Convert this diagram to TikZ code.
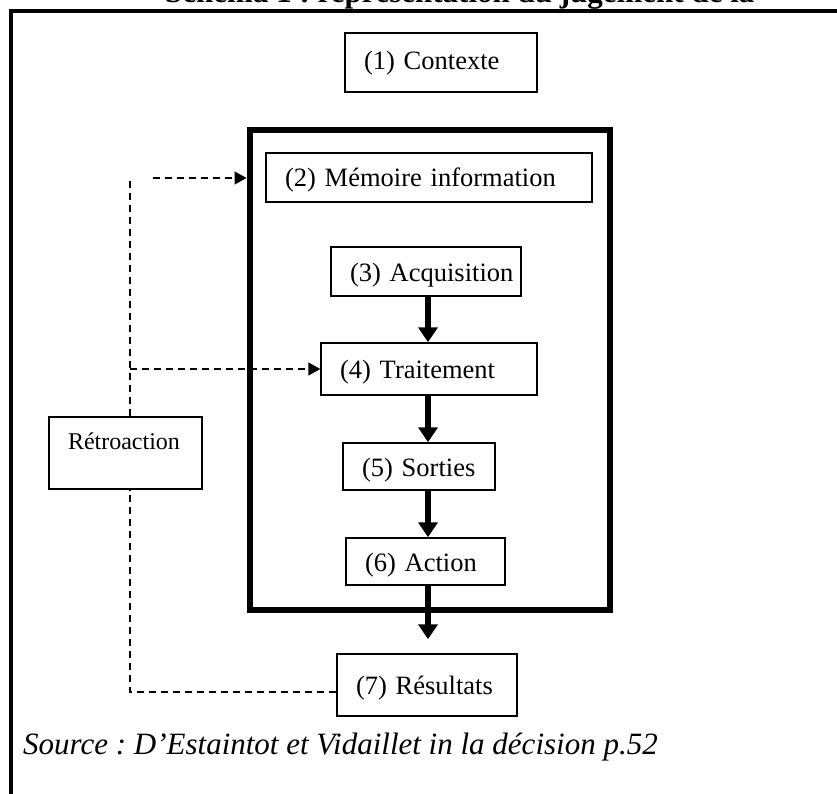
\documentclass[tikz,border=0pt]{standalone}
\usepackage{fontspec}
\setmainfont{Liberation Serif}
\usetikzlibrary{arrows.meta}
\frenchspacing

\tikzset{
  stepbox/.style={draw, line width=1.5pt, fill=white, inner xsep=19pt, inner ysep=0pt,
    align=left, text height=21pt, text depth=2pt,
    font=\fontsize{26.5}{30}\selectfont},
  corebox/.style={draw, line width=6pt, inner sep=0pt},
  flow/.style={line width=6pt, -{Triangle[width=19pt,length=15pt]}},
  feedback/.style={line width=1.5pt, dash pattern=on 7pt off 5pt},
  feedbackarrow/.style={feedback, -{Triangle[width=13pt,length=12pt]}},
}

\begin{document}
\begin{tikzpicture}[x=1pt,y=-1pt]
  \useasboundingbox (0,0) rectangle (837,794);

  % heading, mostly above the page edge
  \node[anchor=base west, inner sep=0pt, font=\fontsize{31}{34}\selectfont\bfseries]
    (title) at (165,3) {Schéma 1 : représentation du jugement de la};

  % outer frame (top and left sides)
  \draw[line width=4pt] (845,11) -- (10.5,11) -- (10.5,800);

  % the judgement process block
  \node[corebox, minimum width=360.5pt, minimum height=479.5pt] (core) at (429.75,369.75) {};

  \node[stepbox, minimum height=59pt, text width=154pt, text height=19pt, text depth=4pt]
    (ctx) at (441,62.5) {\mbox{(1) Contexte}};
  \node[stepbox, minimum height=49pt, text width=288pt] (mem) at (429,177.5) {\mbox{(2) Mémoire information}};
  \node[stepbox, minimum height=49pt, text width=152pt] (acq) at (426,271.5) {\mbox{(3) Acquisition}};
  \node[stepbox, minimum height=52pt, text width=178pt] (trt) at (429,369) {\mbox{(4) Traitement}};
  \node[stepbox, minimum height=47pt, text width=114pt] (out) at (419,466.5) {\mbox{(5) Sorties}};
  \node[stepbox, minimum height=47pt, text width=121pt] (act) at (425.5,561.5) {\mbox{(6) Action}};
  \node[stepbox, minimum height=62pt, text width=142pt] (res) at (427,685) {\mbox{(7) Résultats}};
  \node[stepbox, minimum height=72pt, text width=115pt, text height=17pt, text depth=25pt,
    font=\fontsize{24}{28}\selectfont] (retro) at (125.5,453) {\mbox{Rétroaction}};

  % main flow
  \coordinate (spine) at (428,0);
  \draw[flow] (acq.south -| spine) -- (trt.north -| spine);
  \draw[flow] (trt.south -| spine) -- (out.north -| spine);
  \draw[flow] (out.south -| spine) -- (act.north -| spine);
  \draw[flow, shorten >=14pt] (act.south -| spine) -- (res.north -| spine);

  % feedback loop
  \coordinate (fbtop) at (130,177);
  \coordinate (fbbot) at (130,692);
  \coordinate (fbstart) at (153,178);
  \draw[feedback] (fbbot -| res.west) -- (fbbot) -- (fbbot |- retro.south);
  \draw[feedback] (fbtop |- retro.north) -- (fbtop);
  \draw[feedbackarrow] (fbtop |- trt.west) -- (trt.west);
  \draw[feedbackarrow] (fbstart) -- (fbstart -| core.west);

  % reference line
  \node[anchor=base west, inner sep=0pt, font=\fontsize{31}{34}\selectfont\itshape]
    (src) at (23,754) {Source : D’Estaintot et Vidaillet in la décision p.52};
\end{tikzpicture}
\end{document}
